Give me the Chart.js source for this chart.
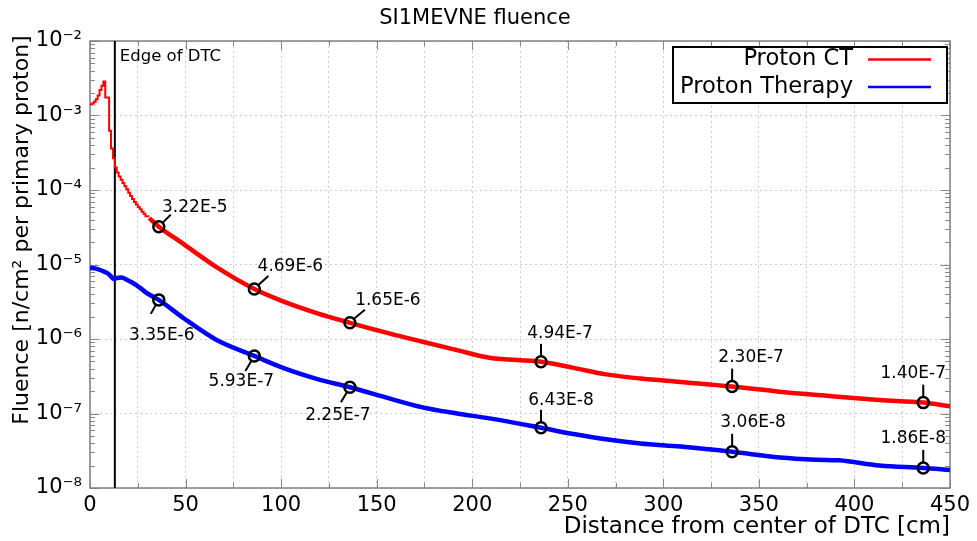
<!DOCTYPE html>
<html><head><meta charset="utf-8">
<script src="https://cdn.jsdelivr.net/npm/chart.js@4.4.0/dist/chart.umd.min.js"></script>
<style>html,body{margin:0;padding:0;background:#fff;}#wrap{width:977px;height:541px;}</style>
</head><body><div id="wrap"><canvas id="c" width="977" height="541"></canvas></div>
<script>
// ---------------- data ----------------
const seriesNames = ['Proton CT', 'Proton Therapy'];
const chartTitle = 'SI1MEVNE fluence';
const xAxisTitle = 'Distance from center of DTC [cm]';
const yAxisTitle = 'Fluence [n/cm\u00B2 per primary proton]';
const dtcEdgeLabel = 'Edge of DTC';
const dtcEdge = 13;

// Proton CT: 1 cm histogram bins near the phantom
const ctBinStart = [0,1,2,3,4,5,6,7,8,9,10,11,12,13,14,15,16,17,18,19,20,21,22,23,24,25,26,27,28,29,30];
const ctBinFluence = [1.38e-3,1.40e-3,1.45e-3,1.53e-3,1.65e-3,1.85e-3,2.2e-3,2.5e-3,2.85e-3,1.75e-3,1.75e-3,
  6.25e-4,3.6e-4,2.66e-4,2.0e-4,1.72e-4,1.52e-4,1.37e-4,1.24e-4,1.12e-4,1.02e-4,9.2e-5,8.3e-5,7.6e-5,
  6.9e-5,6.4e-5,5.9e-5,5.5e-5,5.1e-5,4.8e-5,4.45e-5];
const ctBinWidth = 1;
// Proton CT: far region
const ctDistance = [31,36,49,66,86,101,119,136,157,174,192,209,236,253,270,288,309,336,361,387,413,436,450];
const ctFluence = [4.2e-5,3.22e-5,1.88e-5,9.3e-6,4.69e-6,3.2e-6,2.21e-6,1.65e-6,1.18e-6,9.2e-7,7.1e-7,5.6e-7,
  4.94e-7,4.1e-7,3.35e-7,2.95e-7,2.65e-7,2.30e-7,1.96e-7,1.72e-7,1.52e-7,1.40e-7,1.25e-7];
// Proton Therapy
const therapyDistance = [0,3,6,9.6,11,12.5,14,16.6,19,22.7,26,28.8,31.4,36,49,66,86,101,119,136,157,174,192,209,236,253,270,288,309,336,361,380,392,413,436,450];
const therapyFluence = [9.0e-6,8.8e-6,8.3e-6,7.5e-6,6.9e-6,6.4e-6,6.6e-6,6.7e-6,6.3e-6,5.6e-6,4.9e-6,4.3e-6,3.9e-6,
  3.35e-6,1.9e-6,9.8e-7,5.93e-7,4.1e-7,2.9e-7,2.25e-7,1.58e-7,1.21e-7,1.0e-7,8.6e-8,6.43e-8,5.3e-8,4.5e-8,3.95e-8,
  3.6e-8,3.06e-8,2.57e-8,2.4e-8,2.35e-8,2.0e-8,1.86e-8,1.75e-8];
// annotated points
const markerDistance = [36,86,136,236,336,436];
const ctMarkerValues = [3.22e-5,4.69e-6,1.65e-6,4.94e-7,2.30e-7,1.40e-7];
const therapyMarkerValues = [3.35e-6,5.93e-7,2.25e-7,6.43e-8,3.06e-8,1.86e-8];
// ticks
const xTickValues = [0,50,100,150,200,250,300,350,400,450];
const xMinorStep = 25;
const yTickExponents = [-8,-7,-6,-5,-4,-3,-2];

// ---------------- styling / layout (not data) ----------------
const FONT = "'DejaVu Sans', sans-serif";
const RED = '#ff0000', BLUE = '#0000ff';
// label layout relative to marker centre: text dx,dy ; leader x1,y1,x2,y2
const ctLabelLayout = [
  [36,-19, 4,-4,12,-12],[36,-22, 4,-4,14,-13],[38,-22, 4,-4,15,-13],
  [19,-28, 0,-6,0,-18],[19,-29, 0,-6,0,-18],[-10,-29, 0,-6,0,-18]];
const therapyLabelLayout = [
  [3,36, -3,5,-8,14],[-13,26, -3,5,-9,15],[-12,28, -3,5,-9,15],
  [20,-27, 0,-6,0,-18],[21,-29, 0,-6,0,-18],[-10,-29, 0,-6,0,-18]];

const sup = {'-':'\u207B','0':'\u2070','1':'\u00B9','2':'\u00B2','3':'\u00B3','4':'\u2074','5':'\u2075','6':'\u2076','7':'\u2077','8':'\u2078','9':'\u2079'};
const powLabel = e => '10' + String(e).split('').map(c => sup[c]).join('');

const ctHist = ctBinStart.map((x, i) => ({x, y: ctBinFluence[i]}));
ctHist.push({x: ctBinStart[ctBinStart.length-1] + ctBinWidth, y: ctBinFluence[ctBinFluence.length-1]});

const decor = {
  id: 'decor',
  beforeDatasetsDraw(chart) {
    const {ctx, chartArea: a, scales: {x, y}} = chart;
    ctx.save();
    ctx.strokeStyle = '#888'; ctx.lineWidth = 1;
    ctx.beginPath();
    for (const e of yTickExponents) {
      for (let m = 1; m <= 9; m++) {
        const v = m * Math.pow(10, e);
        if (v > 1.0001e-2) break;
        const py = Math.round(y.getPixelForValue(v)) + 0.5;
        const len = m === 1 ? 9 : 5;
        ctx.moveTo(a.left, py); ctx.lineTo(a.left + len, py);
        ctx.moveTo(a.right, py); ctx.lineTo(a.right - len, py);
      }
    }
    for (let v = 0; v <= 450; v += xMinorStep) {
      const px = Math.round(x.getPixelForValue(v)) + 0.5;
      const len = v % 50 === 0 ? 9 : 5;
      ctx.moveTo(px, a.bottom); ctx.lineTo(px, a.bottom - len);
      ctx.moveTo(px, a.top); ctx.lineTo(px, a.top + len);
    }
    ctx.stroke();
    ctx.lineWidth = 1.5; ctx.strokeStyle = '#808080';
    ctx.strokeRect(a.left, a.top, a.right - a.left, a.bottom - a.top);
    const ex = x.getPixelForValue(dtcEdge);
    ctx.strokeStyle = '#000'; ctx.lineWidth = 2;
    ctx.beginPath(); ctx.moveTo(ex, a.top); ctx.lineTo(ex, a.bottom); ctx.stroke();
    ctx.fillStyle = '#000'; ctx.font = '16.5px ' + FONT;
    ctx.textAlign = 'left'; ctx.textBaseline = 'middle';
    ctx.fillText(dtcEdgeLabel, ex + 5, a.top + 16);
    ctx.restore();
  },
  afterDraw(chart) {
    const {ctx, scales: {x, y}} = chart;
    ctx.save();
    ctx.strokeStyle = '#000'; ctx.fillStyle = '#000'; ctx.lineWidth = 2;
    ctx.font = '17px ' + FONT; ctx.textAlign = 'center'; ctx.textBaseline = 'middle';
    const drawSet = (vals, layout) => {
      vals.forEach((v, i) => {
        const cx = x.getPixelForValue(markerDistance[i]);
        const cy = y.getPixelForValue(v);
        const L = layout[i];
        ctx.beginPath(); ctx.moveTo(cx + L[2], cy + L[3]); ctx.lineTo(cx + L[4], cy + L[5]); ctx.stroke();
        ctx.fillText(v.toExponential(2).toUpperCase(), cx + L[0], cy + L[1]);
      });
    };
    drawSet(ctMarkerValues, ctLabelLayout);
    drawSet(therapyMarkerValues, therapyLabelLayout);
    // legend
    const lx = 673, ly = 47, lw = 274, lh = 56;
    ctx.fillStyle = '#fff'; ctx.fillRect(lx, ly, lw, lh);
    ctx.strokeStyle = '#000'; ctx.lineWidth = 2; ctx.strokeRect(lx, ly, lw, lh);
    ctx.font = '22.6px ' + FONT; ctx.textAlign = 'right'; ctx.fillStyle = '#000';
    [[seriesNames[0], RED, 59.5], [seriesNames[1], BLUE, 87]].forEach(([t, c, yy]) => {
      ctx.fillText(t, 853, yy);
      ctx.strokeStyle = c; ctx.lineWidth = 2.5;
      ctx.beginPath(); ctx.moveTo(868, yy); ctx.lineTo(931, yy); ctx.stroke();
    });
    // y axis title
    ctx.translate(22, 230); ctx.rotate(-Math.PI / 2);
    ctx.textAlign = 'center'; ctx.fillStyle = '#000'; ctx.font = '22px ' + FONT;
    ctx.fillText(yAxisTitle, 0, 0);
    ctx.restore();
  }
};

new Chart(document.getElementById('c'), {
  type: 'line',
  data: {
    datasets: [
      {label: 'ct markers', data: markerDistance.map((d, i) => ({x: d, y: ctMarkerValues[i]})), showLine: false,
        pointRadius: 5.5, pointBorderWidth: 2.5, pointBorderColor: '#000', pointBackgroundColor: 'rgba(0,0,0,0)', order: 0},
      {label: 'therapy markers', data: markerDistance.map((d, i) => ({x: d, y: therapyMarkerValues[i]})), showLine: false,
        pointRadius: 5.5, pointBorderWidth: 2.5, pointBorderColor: '#000', pointBackgroundColor: 'rgba(0,0,0,0)', order: 0},
      {label: seriesNames[0], data: ctHist, stepped: 'after', borderColor: RED, borderWidth: 2, pointRadius: 0, order: 2},
      {label: seriesNames[0], data: ctDistance.map((d, i) => ({x: d, y: ctFluence[i]})), borderColor: RED, borderWidth: 4.5,
        pointRadius: 0, order: 2, cubicInterpolationMode: 'monotone'},
      {label: seriesNames[1], data: therapyDistance.map((d, i) => ({x: d, y: therapyFluence[i]})), borderColor: BLUE, borderWidth: 4.5,
        pointRadius: 0, order: 3, cubicInterpolationMode: 'monotone'}
    ]
  },
  options: {
    responsive: false, animation: false,
    layout: {padding: {left: 0, right: 27, top: 0, bottom: 0}},
    plugins: {
      legend: {display: false}, tooltip: {enabled: false},
      title: {display: true, text: chartTitle, color: '#000', font: {family: FONT, size: 21, weight: 'normal'},
        padding: {top: 6, bottom: 9.8}}
    },
    scales: {
      x: {
        type: 'linear', min: 0, max: 450,
        afterBuildTicks: s => { const t = []; for (let v = 0; v <= 450; v += xMinorStep) t.push({value: v}); s.ticks = t; },
        afterFit: s => { s.height = 53; },
        ticks: {autoSkip: false, maxRotation: 0, color: '#000', padding: 5, font: {family: FONT, size: 21},
          callback: v => xTickValues.includes(v) ? String(v) : ''},
        grid: {color: '#cccccc', lineWidth: 1, drawTicks: false},
        border: {display: false, dash: [2, 3]},
        title: {display: true, text: xAxisTitle, align: 'end', color: '#000', font: {family: FONT, size: 23},
          padding: {top: 0, bottom: 0}}
      },
      y: {
        type: 'logarithmic', min: 1e-8, max: 1e-2,
        afterBuildTicks: s => { s.ticks = yTickExponents.map(e => ({value: Math.pow(10, e)})); },
        afterFit: s => { s.width = 90; },
        ticks: {color: '#000', padding: 8, font: {family: FONT, size: 21},
          callback: v => powLabel(Math.round(Math.log10(v)))},
        grid: {color: '#cccccc', lineWidth: 1, drawTicks: false},
        border: {display: false, dash: [2, 3]}
      }
    }
  },
  plugins: [decor]
});
</script></body></html>
